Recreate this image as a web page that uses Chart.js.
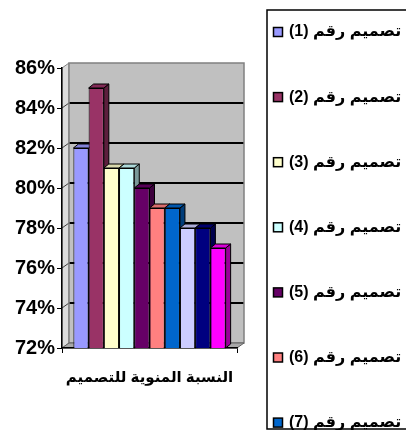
<!DOCTYPE html>
<html><head><meta charset="utf-8">
<script src="https://cdn.jsdelivr.net/npm/chart.js@4/dist/chart.umd.min.js"></script>
<style>html,body{margin:0;padding:0;background:#fff}#wrap{width:406px;height:440px;position:relative}</style>
</head><body><div id="wrap"><canvas id="c" width="406" height="440"></canvas></div>
<script>
const categories = ['النسبة المنوية للتصميم'];
const seriesNames = ['تصميم رقم (1)','تصميم رقم (2)','تصميم رقم (3)','تصميم رقم (4)','تصميم رقم (5)','تصميم رقم (6)','تصميم رقم (7)','تصميم رقم (8)','تصميم رقم (9)','تصميم رقم (10)'];
const seriesValues = [82, 85, 81, 81, 80, 79, 79, 78, 78, 77];
const seriesColors = ['#9999FF','#993366','#FFFFCC','#CCFFFF','#660066','#FF8080','#0066CC','#CCCCFF','#000080','#FF00FF'];
const yTicks = [72, 74, 76, 78, 80, 82, 84, 86];

const FONT = "'Liberation Sans', 'DejaVu Sans', Arial, sans-serif";

function shade(hex, f) {
  const n = parseInt(hex.slice(1), 16);
  const r = Math.round(((n >> 16) & 255) * f), g = Math.round(((n >> 8) & 255) * f), b = Math.round((n & 255) * f);
  return `rgb(${r},${g},${b})`;
}
function poly(ctx, pts, fill, stroke, lw) {
  ctx.beginPath();
  ctx.moveTo(pts[0][0], pts[0][1]);
  for (let i = 1; i < pts.length; i++) ctx.lineTo(pts[i][0], pts[i][1]);
  ctx.closePath();
  if (fill) { ctx.fillStyle = fill; ctx.fill(); }
  if (stroke) { ctx.strokeStyle = stroke; ctx.lineWidth = lw || 1; ctx.stroke(); }
}

const WDX = 7, WDY = -5, BDX = 5, BDY = -4;

const wallPlugin = {
  id: 'wall',
  beforeDraw(chart) {
    const { ctx, chartArea: a, scales: { y } } = chart;
    ctx.save();
    const w = a.right - a.left, h = a.bottom - a.top;
    poly(ctx, [[a.left, a.top], [a.left + WDX, a.top + WDY], [a.left + WDX, a.bottom + WDY], [a.left, a.bottom]], '#DCDCDC', '#808080', 1);
    ctx.fillStyle = '#C0C0C0';
    ctx.fillRect(a.left + WDX, a.top + WDY, w, h);
    yTicks.forEach(v => {
      if (v === yTicks[0] || v === yTicks[yTicks.length - 1]) return;
      const py = y.getPixelForValue(v);
      ctx.strokeStyle = '#000'; ctx.lineWidth = 2;
      ctx.beginPath(); ctx.moveTo(a.left + WDX, py + WDY); ctx.lineTo(a.right + WDX, py + WDY); ctx.stroke();
      ctx.strokeStyle = '#404040'; ctx.lineWidth = 1;
      ctx.beginPath(); ctx.moveTo(a.left, py); ctx.lineTo(a.left + WDX, py + WDY); ctx.stroke();
    });
    ctx.strokeStyle = '#808080'; ctx.lineWidth = 1.5;
    ctx.strokeRect(a.left + WDX, a.top + WDY, w, h);
    poly(ctx, [[a.left, a.bottom], [a.left + WDX, a.bottom + WDY], [a.right + WDX, a.bottom + WDY], [a.right, a.bottom]], '#A8A8A8', '#606060', 1);
    ctx.restore();
  },
  beforeDatasetsDraw(chart) {
    const ctx = chart.ctx, a = chart.chartArea;
    ctx.save();
    chart.data.datasets.forEach((ds, i) => {
      const meta = chart.getDatasetMeta(i);
      meta.data.forEach(bar => {
        const p = bar.getProps(['x', 'y', 'base', 'width'], true);
        const l = p.x - p.width / 2, r = p.x + p.width / 2;
        const base = Math.min(p.base, a.bottom);
        const col = ds.backgroundColor;
        poly(ctx, [[r, p.y], [r + BDX, p.y + BDY], [r + BDX, base + BDY], [r, base]], shade(col, 0.6), '#000', 1);
        poly(ctx, [[l, p.y], [l + BDX, p.y + BDY], [r + BDX, p.y + BDY], [r, p.y]], shade(col, 0.85), '#000', 1);
      });
    });
    ctx.restore();
  }
};

const legendPlugin = {
  id: 'sideLegend',
  afterDraw(chart) {
    const ctx = chart.ctx;
    const L = 267, T = 10, B = 429, R = 406;
    ctx.save();
    ctx.strokeStyle = '#000'; ctx.lineWidth = 1.5;
    ctx.beginPath();
    ctx.moveTo(R + 2, T); ctx.lineTo(L, T); ctx.lineTo(L, B); ctx.lineTo(R + 2, B);
    ctx.stroke();
    ctx.beginPath(); ctx.rect(L, T, R - L, B - T + 1); ctx.clip();
    chart.data.datasets.forEach((ds, i) => {
      const cy = 32 + 65.1 * i;
      if (cy > B) return;
      ctx.fillStyle = ds.backgroundColor;
      ctx.fillRect(273.5, cy - 4.5, 9, 9);
      ctx.strokeStyle = '#000'; ctx.lineWidth = 1.5;
      ctx.strokeRect(273.5, cy - 4.5, 9, 9);
      ctx.fillStyle = '#000';
      ctx.font = `bold 16px ${FONT}`;
      ctx.direction = 'rtl';
      ctx.textAlign = 'left';
      ctx.textBaseline = 'middle';
      ctx.fillText(ds.label, 289, cy);
    });
    ctx.restore();
  }
};

new Chart(document.getElementById('c'), {
  type: 'bar',
  data: {
    labels: categories,
    datasets: seriesNames.map((name, i) => ({
      label: name,
      data: [seriesValues[i]],
      backgroundColor: seriesColors[i],
      borderColor: '#000',
      borderWidth: 1,
      categoryPercentage: 0.87,
      barPercentage: 1
    }))
  },
  options: {
    responsive: false,
    devicePixelRatio: 1,
    animation: false,
    layout: { padding: { left: 0, top: 68, right: 169, bottom: 0 } },
    plugins: { legend: { display: false }, tooltip: { enabled: false } },
    scales: {
      y: {
        min: 72, max: 86,
        afterFit: s => { s.width = 62; },
        afterBuildTicks: s => { s.ticks = yTicks.map(v => ({ value: v })); },
        ticks: { callback: v => v + '%', color: '#000', font: { family: FONT, size: 20, weight: 'bold' }, padding: 2 },
        grid: { drawOnChartArea: false, drawTicks: true, tickLength: 5, color: '#000', lineWidth: 1 },
        border: { display: true, color: '#000', width: 1.5 }
      },
      x: {
        offset: true,
        afterFit: s => { s.height = 92; },
        ticks: { color: '#000', font: { family: FONT, size: 15, weight: 'bold' }, padding: 16 },
        grid: { offset: true, drawOnChartArea: false, drawTicks: true, tickLength: 5, color: '#000', lineWidth: 1 },
        border: { display: true, color: '#000', width: 1.5 }
      }
    }
  },
  plugins: [wallPlugin, legendPlugin]
});
</script>
</body></html>
